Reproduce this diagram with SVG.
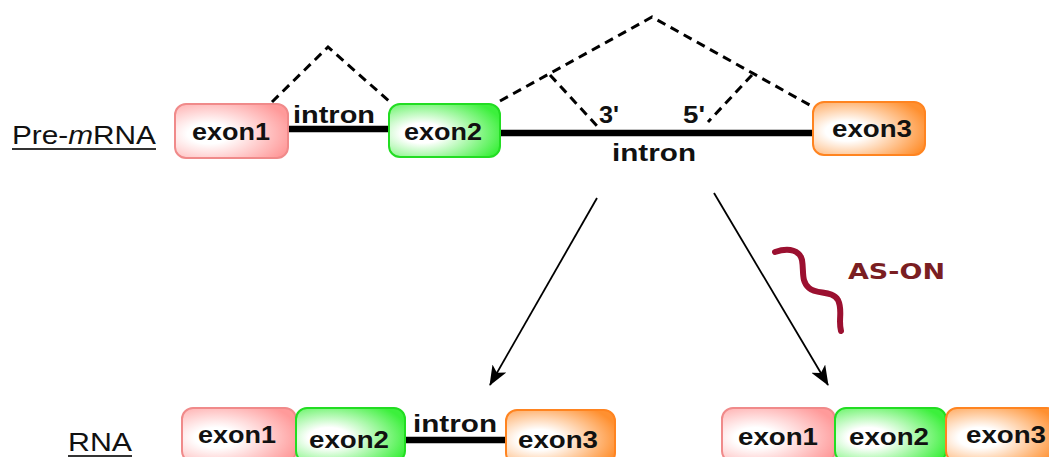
<svg xmlns="http://www.w3.org/2000/svg" width="1049" height="457" viewBox="0 0 1049 457">
<defs>
  <radialGradient id="gPink" cx="0.3" cy="0.55" r="0.75">
    <stop offset="0.25" stop-color="#ffffff"/>
    <stop offset="1" stop-color="#ff9a9a"/>
  </radialGradient>
  <radialGradient id="gGreen" cx="0.3" cy="0.55" r="0.75">
    <stop offset="0.25" stop-color="#ffffff"/>
    <stop offset="1" stop-color="#3cf03c"/>
  </radialGradient>
  <radialGradient id="gOrange" cx="0.3" cy="0.55" r="0.75">
    <stop offset="0.25" stop-color="#ffffff"/>
    <stop offset="1" stop-color="#ff9030"/>
  </radialGradient>
  <marker id="arrowBig" viewBox="0 0 20 16" refX="19" refY="8" markerWidth="20" markerHeight="16" markerUnits="userSpaceOnUse" orient="auto">
    <path d="M0,0 L20,8 L0,16 L5,8 z" fill="#000"/>
  </marker>
</defs>
<style>
  .lbl { font-family: "Liberation Sans", Arial, sans-serif; font-size: 26px; fill: #111; }
  .ex { font-family: "Liberation Sans", Arial, sans-serif; font-size: 23px; font-weight: bold; fill: #111; }
  .sm { font-family: "Liberation Sans", Arial, sans-serif; font-size: 24px; font-weight: bold; fill: #111; }
  .pink { fill: url(#gPink); stroke: #f08a8a; stroke-width: 2; }
  .green { fill: url(#gGreen); stroke: #22dd22; stroke-width: 2; }
  .orange { fill: url(#gOrange); stroke: #ff8420; stroke-width: 2; }
  .bar { stroke: #000; stroke-width: 6.5; fill: none; }
  .dash { stroke: #000; stroke-width: 3; stroke-dasharray: 9 6; fill: none; }
  .arr { stroke: #000; stroke-width: 1.8; fill: none; }
  .ason { font-family: "DejaVu Sans", sans-serif; font-size: 22px; font-weight: bold; fill: #7a1e22; }
</style>

<!-- Labels -->
<g id="label-premrna">
  <text class="lbl" x="12" y="144" textLength="144" lengthAdjust="spacingAndGlyphs">Pre-<tspan font-style="italic">m</tspan>RNA</text>
  <line x1="12" y1="149" x2="156" y2="149" stroke="#333" stroke-width="2"/>
</g>
<g id="label-rna">
  <text class="lbl" x="68" y="451" textLength="64" lengthAdjust="spacingAndGlyphs">RNA</text>
  <line x1="68" y1="456" x2="132" y2="456" stroke="#333" stroke-width="2"/>
</g>

<!-- Connectors -->
<g id="connectors">
  <line class="bar" x1="288" y1="129" x2="389" y2="129"/>
  <line class="bar" x1="500" y1="133" x2="813" y2="133"/>
  <polyline class="dash" points="272,102 328,47 390,102"/>
  <polyline class="dash" points="500,101 652,17 815,108"/>
  <polyline class="dash" points="550,75 598,127"/>
  <polyline class="dash" points="752,75 708,122"/>
  <line class="bar" x1="405" y1="440" x2="506" y2="440"/>
  <line class="arr" x1="597" y1="198" x2="490" y2="385" marker-end="url(#arrowBig)"/>
  <line class="arr" x1="714" y1="193" x2="828" y2="385" marker-end="url(#arrowBig)"/>
</g>

<g id="intron-labels">
  <text class="sm" x="293" y="123" textLength="82" lengthAdjust="spacingAndGlyphs">intron</text>
  <text class="sm" x="612" y="161" textLength="84" lengthAdjust="spacingAndGlyphs">intron</text>
  <text class="sm" x="599" y="123" textLength="20" lengthAdjust="spacingAndGlyphs">3'</text>
  <text class="sm" x="683" y="123" textLength="22" lengthAdjust="spacingAndGlyphs">5'</text>
  <text class="sm" x="413" y="432" textLength="84" lengthAdjust="spacingAndGlyphs">intron</text>
</g>

<g id="ason">
  <path d="M775,252 C790,247 800,251 802,260 C804,272 801,281 809,288 C817,295 832,290 838,300 C843,310 838,320 841,331" fill="none" stroke="#9b1030" stroke-width="6" stroke-linecap="round"/>
  <text class="ason" x="848" y="279" textLength="97" lengthAdjust="spacingAndGlyphs">AS-ON</text>
</g>

<g id="top-exon1">
  <rect class="pink" x="175" y="104" width="113" height="54" rx="11"/>
  <text class="ex" x="192" y="140" textLength="78" lengthAdjust="spacingAndGlyphs">exon1</text>
</g>
<g id="top-exon2">
  <rect class="green" x="389" y="104" width="111" height="53" rx="11"/>
  <text class="ex" x="404" y="140" textLength="78" lengthAdjust="spacingAndGlyphs">exon2</text>
</g>
<g id="top-exon3">
  <rect class="orange" x="813" y="102" width="112" height="53" rx="11"/>
  <text class="ex" x="832" y="137" textLength="80" lengthAdjust="spacingAndGlyphs">exon3</text>
</g>

<g id="bl-exon1">
  <rect class="pink" x="182" y="408" width="114" height="54" rx="11"/>
  <text class="ex" x="198" y="443" textLength="78" lengthAdjust="spacingAndGlyphs">exon1</text>
</g>
<g id="bl-exon2">
  <rect class="green" x="296" y="408" width="109" height="54" rx="11"/>
  <text class="ex" x="309" y="448" textLength="80" lengthAdjust="spacingAndGlyphs">exon2</text>
</g>
<g id="bl-exon3">
  <rect class="orange" x="506" y="410" width="109" height="54" rx="11"/>
  <text class="ex" x="518" y="448" textLength="80" lengthAdjust="spacingAndGlyphs">exon3</text>
</g>

<g id="br-exon1">
  <rect class="pink" x="722" y="408" width="113" height="54" rx="11"/>
  <text class="ex" x="738" y="445" textLength="80" lengthAdjust="spacingAndGlyphs">exon1</text>
</g>
<g id="br-exon2">
  <rect class="green" x="835" y="408" width="111" height="54" rx="11"/>
  <text class="ex" x="849" y="445" textLength="80" lengthAdjust="spacingAndGlyphs">exon2</text>
</g>
<g id="br-exon3">
  <rect class="orange" x="946" y="408" width="112" height="54" rx="11"/>
  <text class="ex" x="966" y="443" textLength="80" lengthAdjust="spacingAndGlyphs">exon3</text>
</g>
</svg>
